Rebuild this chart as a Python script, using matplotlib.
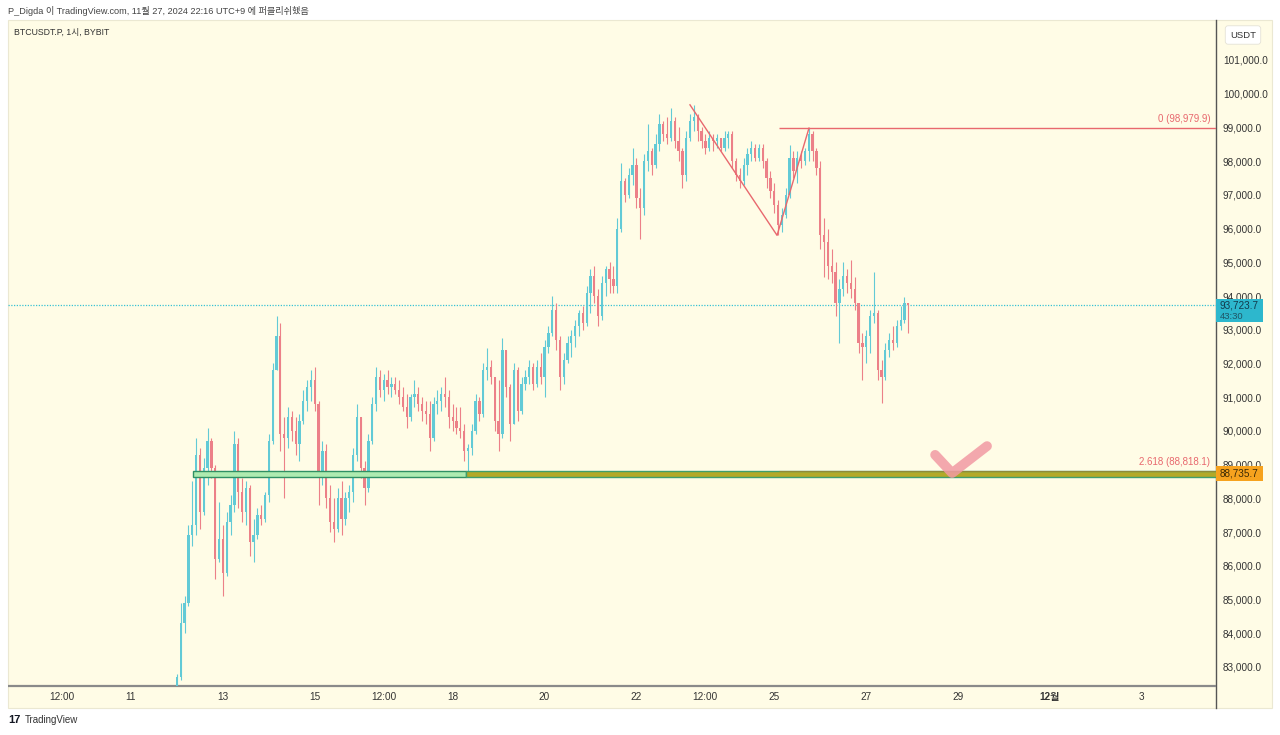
import matplotlib.pyplot as plt
import matplotlib.patches as mpatches
import matplotlib.transforms as mtransforms
import numpy as np

plt.rcParams['font.family'] = ['Liberation Sans', 'Noto Sans CJK KR', 'DejaVu Sans']

# 2-hour bars from Nov 12 00:00 to Nov 27 22:00 (UTC+9), prices in thousand USDT
start_day = 12.0
first_open = 82.0
highs = [
    82.8, 84.9, 85.1, 87.2, 88.5, 89.8, 89.5, 89.2, 90.1, 89.8, 89.0, 87.9,
    87.2, 87.6, 88.1, 90.0, 89.8, 88.6, 88.5, 88.4, 87.4, 87.7, 87.8, 88.2,
    89.9, 92.0, 93.4, 93.2, 90.4, 90.7, 90.6, 90.4, 90.5, 91.2, 91.5, 91.8,
    91.9, 90.9, 89.7, 89.6, 88.4, 88.0, 88.3, 88.5, 88.2, 88.4, 89.5, 90.8,
    90.4, 89.1, 89.9, 91.0, 91.9, 91.8, 91.7, 91.8, 91.6, 91.6, 91.5, 91.3,
    91.1, 91.1, 91.5, 91.3, 91.0, 90.9, 90.9, 91.0, 91.2, 91.3, 91.6, 91.2,
    90.8, 90.7, 90.7, 90.2, 89.6, 90.2, 91.1, 91.0, 92.0, 92.45, 92.1, 91.6,
    91.5, 92.75, 92.4, 91.4, 92.0, 91.9, 91.6, 91.8, 92.1, 92.0, 92.1, 92.3,
    92.7, 93.1, 94.0, 93.8, 92.8, 92.3, 92.8, 93.0, 93.3, 93.6, 93.7, 94.3,
    94.8, 94.9, 94.2, 94.6, 94.9, 95.0, 94.9, 96.3, 97.95, 97.5, 97.8, 98.4,
    98.1, 97.2, 98.2, 99.1, 98.4, 98.8, 99.4, 99.2, 99.3, 99.57, 99.3, 99.0,
    98.4, 98.9, 99.4, 99.67, 99.4, 99.0, 98.8, 98.9, 98.8, 98.8, 98.7, 98.9,
    98.9, 98.9, 98.1, 97.8, 98.1, 98.4, 98.6, 98.5, 98.5, 98.5, 98.1, 97.7,
    97.35, 96.85, 96.6, 97.2, 98.48, 98.3, 98.3, 98.3, 98.4, 98.98, 98.9, 98.4,
    98.0, 96.3, 96.0, 95.4, 95.0, 94.5, 95.0, 94.8, 95.07, 94.55, 93.8, 92.9,
    93.0, 93.6, 94.7, 93.6, 92.1, 92.6, 92.9, 93.1, 93.3, 93.7, 93.97, 93.8,
]
lows = [
    81.8, 82.6, 84.0, 84.8, 86.6, 86.9, 87.1, 87.5, 88.4, 88.6, 85.6, 86.1,
    85.1, 85.7, 86.9, 87.6, 87.7, 87.3, 87.2, 86.3, 86.1, 86.8, 87.2, 87.3,
    87.9, 89.6, 91.8, 89.4, 88.0, 89.5, 89.7, 89.3, 89.1, 90.2, 90.6, 90.9,
    90.6, 87.8, 88.4, 87.7, 87.0, 86.7, 87.0, 86.9, 87.2, 87.6, 87.9, 89.1,
    88.6, 87.8, 88.2, 89.6, 90.6, 91.0, 90.9, 91.1, 91.0, 91.1, 90.8, 90.6,
    90.1, 90.3, 90.7, 90.6, 90.3, 90.2, 89.4, 89.7, 90.5, 90.6, 90.7, 90.1,
    90.0, 89.9, 89.8, 89.1, 88.8, 89.3, 89.9, 90.3, 90.4, 91.5, 91.4, 90.0,
    89.4, 89.8, 91.0, 89.7, 90.2, 90.3, 90.5, 91.2, 91.4, 91.2, 91.3, 91.4,
    91.0, 92.3, 92.8, 92.4, 91.2, 91.4, 92.0, 92.2, 92.5, 92.8, 93.0, 93.1,
    93.5, 93.8, 93.1, 93.3, 94.0, 94.1, 94.1, 94.1, 95.9, 96.8, 96.9, 97.3,
    96.6, 95.7, 96.4, 97.7, 97.6, 97.8, 98.3, 98.6, 98.5, 98.6, 98.4, 98.0,
    97.2, 97.4, 98.6, 98.9, 98.6, 98.4, 98.2, 98.3, 98.3, 98.4, 98.3, 98.3,
    98.4, 97.8, 97.4, 97.2, 97.3, 97.6, 98.0, 98.0, 98.0, 97.8, 97.2, 96.9,
    96.45, 95.8, 95.9, 96.3, 96.9, 97.5, 97.35, 97.8, 97.9, 98.0, 98.0, 97.6,
    95.4, 94.55, 94.5, 94.4, 93.4, 92.6, 94.0, 94.1, 93.95, 93.6, 92.3, 91.5,
    92.0, 92.3, 93.2, 91.5, 90.83, 91.5, 92.2, 92.4, 92.5, 93.0, 93.2, 92.9,
]
closes = [
    82.7, 84.3, 84.9, 86.9, 87.2, 89.3, 87.6, 88.9, 89.7, 88.9, 86.2, 86.8,
    85.8, 87.3, 87.8, 89.6, 88.2, 87.6, 88.3, 86.7, 86.9, 87.5, 87.4, 88.1,
    89.7, 91.8, 92.8, 89.9, 89.8, 90.4, 90.0, 89.6, 90.3, 90.9, 91.3, 91.5,
    90.8, 88.6, 89.4, 88.0, 87.3, 87.1, 88.0, 87.4, 88.0, 88.2, 89.3, 90.4,
    88.9, 88.3, 89.7, 90.8, 91.6, 91.2, 91.5, 91.3, 91.4, 91.2, 91.0, 90.7,
    90.4, 91.0, 91.1, 90.8, 90.6, 90.5, 89.8, 90.8, 90.9, 91.1, 91.0, 90.4,
    90.3, 90.1, 90.0, 89.4, 89.5, 90.0, 90.9, 90.5, 91.8, 91.9, 91.6, 90.3,
    89.9, 92.4, 91.3, 90.2, 91.8, 90.6, 91.4, 91.6, 91.9, 91.4, 91.9, 91.6,
    92.5, 92.9, 93.6, 92.7, 91.6, 92.1, 92.6, 92.8, 93.1, 93.5, 93.2, 94.1,
    94.6, 94.0, 93.4, 94.4, 94.8, 94.5, 94.3, 96.0, 97.4, 97.0, 97.6, 97.9,
    96.9, 96.6, 98.0, 98.3, 97.9, 98.5, 99.1, 98.8, 98.7, 99.2, 98.6, 98.3,
    97.6, 98.7, 99.2, 99.3, 98.9, 98.6, 98.4, 98.7, 98.6, 98.7, 98.4, 98.7,
    98.8, 98.0, 97.6, 97.4, 97.9, 98.2, 98.4, 98.1, 98.4, 98.0, 97.5, 97.1,
    96.7, 96.1, 96.4, 97.0, 98.1, 97.7, 98.1, 98.0, 98.3, 98.8, 98.3, 97.8,
    95.8, 95.6, 94.9, 94.7, 93.8, 94.2, 94.6, 94.4, 94.2, 93.8, 92.6, 92.5,
    92.8, 93.4, 93.5, 91.8, 91.6, 92.4, 92.7, 92.6, 93.1, 93.3, 93.8, 93.7237,
]

# drawings
zigzag_days = [23.165, 25.06, 25.755]
zigzag_prices = [99.67, 95.80, 98.98]
fib_start = 25.10
fib_0 = 98.9799
fib_2618 = 88.8181
zone_start, zone_split = 12.35, 18.29
zone_low, zone_high = 88.63, 88.82
zone_price = 88.7357
countdown = '43:30'
check_days = [28.50, 28.87, 29.63]
check_prices = [89.29, 88.75, 89.55]

x_ticks = [9.5, 11, 13, 15, 16.5, 18, 20, 22, 23.5, 25, 27, 29, 31, 33]
x_labels = ['12:00', '11', '13', '15', '12:00', '18', '20', '22', '12:00',
            '25', '27', '29', '12월', '3']
price_ticks = list(range(83, 102))

bg = '#FFFCE6'
up_col = '#62CAD6'
down_col = '#EC8088'
fib_red = '#E8686E'

W, H = 1280, 735
fig = plt.figure(figsize=(W / 100, H / 100), dpi=100)
fig.patch.set_facecolor('white')

def fx(px):
    return px / W

def fy(py):
    return 1 - py / H

fig.patches.append(mpatches.Rectangle((fx(8), fy(708)), fx(1264), (708 - 20) / H,
                                      transform=fig.transFigure, facecolor=bg,
                                      edgecolor='#ebe8d2', lw=0.8, zorder=-5))

ax = fig.add_axes([fx(8), fy(686), fx(1208), 666 / H])
ax.set_zorder(2)
ax.set_facecolor('none')
ax.set_xlim(8.323, 34.613)
ax.set_ylim(82.435, 102.186)

t = start_day + np.arange(len(closes)) / 12.0
c = np.array(closes)
o = np.concatenate([[first_open], c[:-1]])
hi = np.array(highs)
lo = np.array(lows)
cols = np.where(c >= o, up_col, down_col)

ax.vlines(t, lo, hi, colors=cols, lw=0.8, zorder=3)
ax.bar(t, np.maximum(np.abs(c - o), 0.03), bottom=np.minimum(o, c), width=0.05,
       color=cols, lw=0, zorder=3)

trans = mtransforms.blended_transform_factory(ax.transAxes, ax.transData)

# zone box + extended band
ax.add_patch(mpatches.Rectangle((zone_start, zone_low), zone_split - zone_start,
                                zone_high - zone_low, facecolor='#AEEBB0',
                                edgecolor='#2F8F63', lw=1.0, zorder=4))
ax.add_patch(mpatches.Rectangle((zone_split, zone_low), 40 - zone_split,
                                zone_high - zone_low, facecolor='#B3A928',
                                edgecolor='#3E9E6E', lw=1.0, zorder=4))

# fib levels
ax.hlines(fib_0, fib_start, 40, color=fib_red, lw=1.0, zorder=5)
ax.hlines(fib_2618, fib_start, 40, color='#8E8A3A', lw=0.8, zorder=5)
ax.annotate(f'0 ({fib_0 * 1000:,.1f})', xy=(1, fib_0), xycoords=trans,
            xytext=(-4, 3), textcoords='offset points', ha='right', va='bottom',
            color=fib_red, fontsize=7)
ax.annotate(f'2.618 ({fib_2618 * 1000:,.1f})', xy=(1, fib_2618), xycoords=trans,
            xytext=(-4, 3), textcoords='offset points', ha='right', va='bottom',
            color=fib_red, fontsize=7)

# zigzag
ax.plot(zigzag_days, zigzag_prices, color=fib_red, lw=1.0, zorder=6)

# check mark
ax.plot(check_days, check_prices, color='#F29AA3', lw=7, alpha=0.85,
        solid_capstyle='round', solid_joinstyle='round', zorder=7)

# current price dotted line
last_price = closes[-1]
ax.axhline(last_price, color='#38C2D4', lw=0.9, ls=(0, (1, 1.2)), zorder=2)

# axes styling
for s in ['top', 'left', 'right']:
    ax.spines[s].set_visible(False)
ax.spines['bottom'].set_color('#8a8a8a')
ax.spines['bottom'].set_linewidth(1.6)
ax.spines['bottom'].set_capstyle('butt')
ax.yaxis.tick_right()
ax.set_yticks(price_ticks)
ax.set_yticklabels([f'{v * 1000:,.1f}' for v in price_ticks])
ax.tick_params(axis='y', length=0, pad=5, labelsize=7.2, labelcolor='#333333')
ax.set_xticks(x_ticks)
ax.set_xticklabels(x_labels)
ax.tick_params(axis='x', length=0, pad=4.5, labelsize=7.2, labelcolor='#333333')
for lab in ax.get_xticklabels():
    if lab.get_text() == '12월':
        lab.set_fontweight('bold')

# price scale separator
fig.add_artist(plt.Line2D([fx(1216), fx(1216)], [fy(20), fy(708)],
                          transform=fig.transFigure, color='#555555', lw=1.0))

# price labels on the scale
ax.add_patch(mpatches.Rectangle((1, last_price - 0.49), 0.039, 0.68, transform=trans,
                                facecolor='#2DB7CD', edgecolor='none', clip_on=False,
                                zorder=8))
ax.text(1.003, last_price, f'{last_price * 1000:,.1f}', transform=trans,
        ha='left', va='center', fontsize=7.2, color='#123a4c', zorder=9)
ax.text(1.003, last_price - 0.33, countdown, transform=trans, ha='left',
        va='center', fontsize=6.8, color='#1f5566', zorder=9)
ax.add_patch(mpatches.Rectangle((1, zone_price - 0.21), 0.039, 0.42, transform=trans,
                                facecolor='#F6A21E', edgecolor='none', clip_on=False,
                                zorder=8))
ax.text(1.003, zone_price, f'{zone_price * 1000:,.1f}', transform=trans, ha='left',
        va='center', fontsize=7.2, color='#3b2a05', zorder=9)

# USDT box
fig.text(fx(1243), fy(35), 'USDT', ha='center', va='center', fontsize=6.8,
         color='#333333',
         bbox=dict(boxstyle='round,pad=0.5,rounding_size=0.3', facecolor='white',
                   edgecolor='#e4e2d6', lw=0.6))

# header / symbol / footer
fig.text(fx(8), fy(11), 'P_Digda 이 TradingView.com, 11월 27, 2024 22:16 UTC+9 에 퍼블리쉬했음',
         ha='left', va='center', fontsize=6.6, color='#444444')
fig.text(fx(14), fy(32), 'BTCUSDT.P, 1시, BYBIT', ha='left', va='center',
         fontsize=6.3, color='#333333')
fig.text(fx(8), fy(720), '17', ha='left', va='center', fontsize=8,
         fontweight='heavy', color='#131722')
fig.text(fx(25), fy(720), 'TradingView', ha='left', va='center', fontsize=7,
         color='#333333')

fig.savefig('out.png', dpi=100, facecolor='white')
